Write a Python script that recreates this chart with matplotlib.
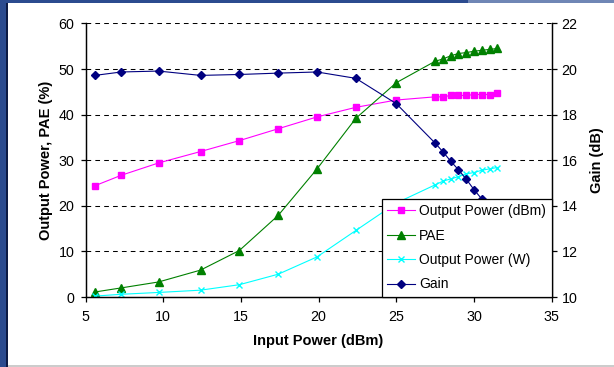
import matplotlib.pyplot as plt
from matplotlib.patches import Rectangle

plt.rcParams['font.family'] = ['Liberation Sans', 'DejaVu Sans']

# input power (dBm)
pin = [5.6, 7.3, 9.7, 12.4, 14.9, 17.4, 19.9, 22.4, 25.0, 27.5,
       28.0, 28.5, 29.0, 29.5, 30.0, 30.5, 31.0, 31.5]

pout_dbm = [24.4, 26.7, 29.4, 31.9, 34.3, 36.9, 39.5, 41.6, 43.2, 43.9,
            43.9, 44.2, 44.2, 44.2, 44.4, 44.4, 44.4, 44.7]
pae = [1.1, 2.0, 3.3, 5.9, 10.2, 17.9, 28.1, 39.2, 47.0, 51.7,
       52.2, 52.9, 53.4, 53.6, 53.9, 54.1, 54.3, 54.5]
pout_w = [0.2, 0.6, 1.0, 1.5, 2.7, 5.0, 8.8, 14.6, 20.6, 24.6,
          25.4, 25.9, 26.4, 27.0, 27.3, 27.8, 28.1, 28.4]
gain = [19.72, 19.87, 19.91, 19.72, 19.76, 19.82, 19.87, 19.59, 18.48, 16.75,
        16.37, 15.96, 15.58, 15.17, 14.71, 14.30, 13.9, 13.5]

fig = plt.figure(figsize=(6.14, 3.67), dpi=100)
ax = fig.add_axes([0.1393, 0.1907, 0.7592, 0.7455])
ax2 = ax.twinx()

# slide background strips
fig.add_artist(Rectangle((0, 0), 6/614, 1, transform=fig.transFigure, color='#2B4B8F', lw=0))
fig.add_artist(Rectangle((6/614, 0), 2/614, 1, transform=fig.transFigure, color='#0D1B45', lw=0))
fig.add_artist(Rectangle((0, 364/367), 468/614, 3/367, transform=fig.transFigure, color='#2B4B8F', lw=0))
fig.add_artist(Rectangle((468/614, 364/367), 146/614, 3/367, transform=fig.transFigure, color='#6F86B5', lw=0))
fig.add_artist(Rectangle((8/614, 0), 606/614, 2/367, transform=fig.transFigure, color='#CCCCCC', lw=0))

l1, = ax.plot(pin, pout_dbm, color='#FF00FF', lw=0.8, marker='s', ms=5, label='Output Power (dBm)')
l2, = ax.plot(pin, pae, color='#008000', lw=0.8, marker='^', ms=5.5, label='PAE')
l3, = ax.plot(pin, pout_w, color='#00FFFF', lw=0.8, marker='x', ms=5, mew=1, label='Output Power (W)')
l4, = ax2.plot(pin, gain, color='#000080', lw=0.8, marker='D', ms=4, label='Gain')

ax.set_xlim(5, 35)
ax.set_ylim(0, 60)
ax2.set_ylim(10, 22)
ax.set_xticks(range(5, 36, 5))
ax.set_yticks(range(0, 61, 10))
ax2.set_yticks(range(10, 23, 2))

for y in range(10, 61, 10):
    ax.axhline(y, color='black', lw=0.75, linestyle=(0, (4.5, 4)), zorder=0)

for a in (ax, ax2):
    a.spines['top'].set_visible(False)
    a.spines[:].set_linewidth(0.9)
ax.tick_params(axis='x', direction='out', length=3.6, width=0.9, pad=6, labelsize=10.3)
ax.tick_params(axis='y', direction='out', length=3.6, width=0.9, pad=4.3, labelsize=10.3)
ax2.tick_params(axis='y', direction='out', length=3.6, width=0.9, pad=3.6, labelsize=10.3)

ax.set_xlabel('Input Power (dBm)', fontsize=10.5, fontweight='bold', labelpad=7)
ax.set_ylabel('Output Power, PAE (%)', fontsize=10.5, fontweight='bold', labelpad=4)
ax2.set_ylabel('Gain (dB)', fontsize=10.5, fontweight='bold', labelpad=9)

leg = ax2.legend(handles=[l1, l2, l3, l4], loc='lower right', borderaxespad=0,
                 fancybox=False, framealpha=1, edgecolor='black', fontsize=10,
                 handlelength=2.0, handletextpad=0.3, labelspacing=0.75, borderpad=0.4)
leg.get_frame().set_linewidth(0.9)

fig.savefig('out.png', dpi=100)
